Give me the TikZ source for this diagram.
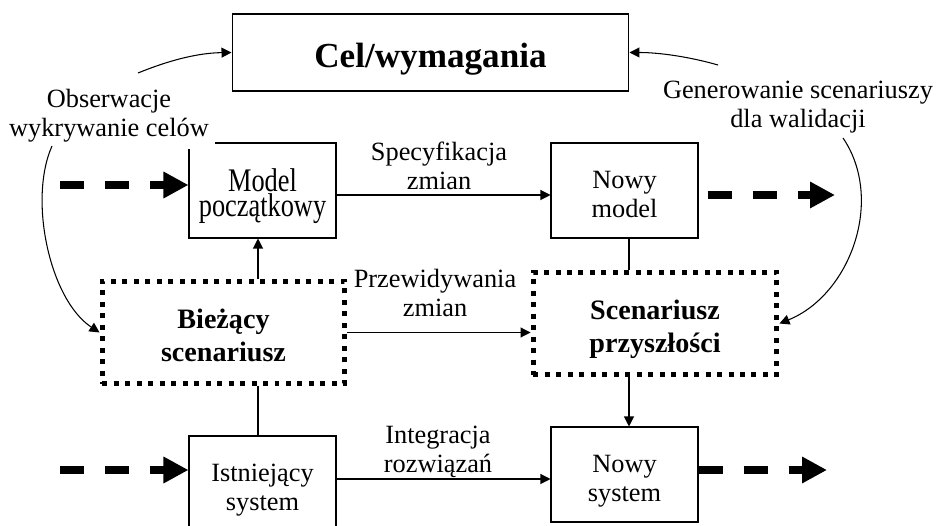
\documentclass[tikz,border=0pt]{standalone}
\usepackage{fontspec}
\setmainfont{Liberation Serif}
\usepackage{graphicx}
\usetikzlibrary{arrows.meta}

\newcommand{\tallstack}[2]{\scalebox{1}[1.25]{\vbox{\baselineskip=11.5pt\lineskiplimit=-20pt
  \halign{\hfil##\hfil\cr#1\cr#2\cr}}}}

\tikzset{
  txt/.style={font=\fontsize{15pt}{17pt}\selectfont,align=center},
  boldtxt/.style={font=\fontsize{16pt}{19.3pt}\selectfont\bfseries,align=center},
  bigdash/.style={line width=0.15cm,dash pattern=on 0.48cm off 0.42cm,
    -{Triangle[length=0.5cm,width=0.5cm]}}
}

\begin{document}
\begin{tikzpicture}[x=0.02cm,y=-0.02cm]
\useasboundingbox (0,0) rectangle (940,526);

\begin{scope}[every node/.style={draw,txt,inner sep=0pt,line width=0.6pt,
    minimum width=2.94cm,minimum height=1.9cm,text height=1.24cm,text depth=0.14cm}]
    \node[font=\fontsize{20pt}{24pt}\selectfont\bfseries,minimum width=7.94cm,
          minimum height=1.54cm,text height=0.77cm,text depth=0.15cm] (cel) at (430.5,52.5) {Cel/wymagania};
    \node[text height=1.21cm,text depth=0.15cm] (model) at (262.5,190.5) {\tallstack{Model}{początkowy}};
    \node (nmodel) at (624.5,190.5) {Nowy\\model};
    \node (istn) at (262.5,483.5) {Istniejący\\system};
    \node (nsys) at (624.5,474.5) {Nowy\\system};
\end{scope}

\begin{scope}[every node/.style={draw,boldtxt,inner sep=0pt,line width=0.1cm,
    dash pattern=on 0.1cm off 0.13cm,minimum height=2.06cm,text height=1.34cm,text depth=0.16cm}]
    \node[minimum width=4.86cm] (biez) at (223.5,332.5) {Bieżący\\scenariusz};
    \node[minimum width=4.88cm] (scen) at (655,323.5) {Scenariusz\\przyszłości};
\end{scope}

\begin{scope}[every node/.style={txt,inner sep=0.12cm,text height=1.0cm,text depth=0.12cm}]
    \node[fill=white] (obs) at (109,115) {Obserwacje\\wykrywanie celów};
    \node (gen) at (798,106) {Generowanie scenariuszy\\dla walidacji};
    \node (spec) at (439,168) {Specyfikacja\\zmian};
    \node (przew) at (435,295) {Przewidywania\\zmian};
    \node (integ) at (438,451) {Integracja\\rozwiązań};
\end{scope}

\coordinate (mx) at (258,0);
\coordinate (nx) at (629,0);
\coordinate (ya) at (0,195);
\coordinate (yc) at (0,479);
\coordinate (ina) at (60,185);
\coordinate (inb) at (60,470);
\coordinate (outa) at (835,195);
\coordinate (outb) at (827,470);
\coordinate (obsa) at (138,73);
\coordinate (obsb) at (52,146);
\coordinate (gena) at (718,65);
\coordinate (genb) at (843,138);

\begin{scope}[>={Triangle[length=0.2cm,width=0.2cm]},
              every edge/.style={draw,line width=0.6pt}]
    \path [->] (model.east |- ya) edge (nmodel.west |- ya);
    \path [->] (biez.east) edge (biez.east -| scen.west);
    \path [->] (istn.east |- yc) edge (nsys.west |- yc);
    \path [->] (biez.north -| mx) edge (model.south -| mx);
    \path [-] (istn.north -| mx) edge (biez.south -| mx);
    \path [-] (nmodel.south -| nx) edge (scen.north -| nx);
    \path [->] (scen.south -| nx) edge (nsys.north -| nx);
    \draw [->,line width=0.6pt] (obsa) .. controls (165,62) and (195,53) .. (cel.west);
    \draw [->,line width=0.6pt] (gena) .. controls (690,57) and (660,52.5) .. (cel.east);
    \draw [->,line width=0.6pt] (obsb) .. controls (28,200) and (50,300) .. (biez.west);
    \draw [->,line width=0.6pt] (genb) .. controls (885,200) and (850,295) .. (scen.east);
\end{scope}

\draw[bigdash] (ina) -- (ina -| model.west);
\draw[bigdash] (inb) -- (inb -| istn.west);
\draw[bigdash,shorten <=0.18cm] (nmodel.east |- outa) -- (outa);
\draw[bigdash] (nsys.east |- outb) -- (outb);
\end{tikzpicture}
\end{document}
